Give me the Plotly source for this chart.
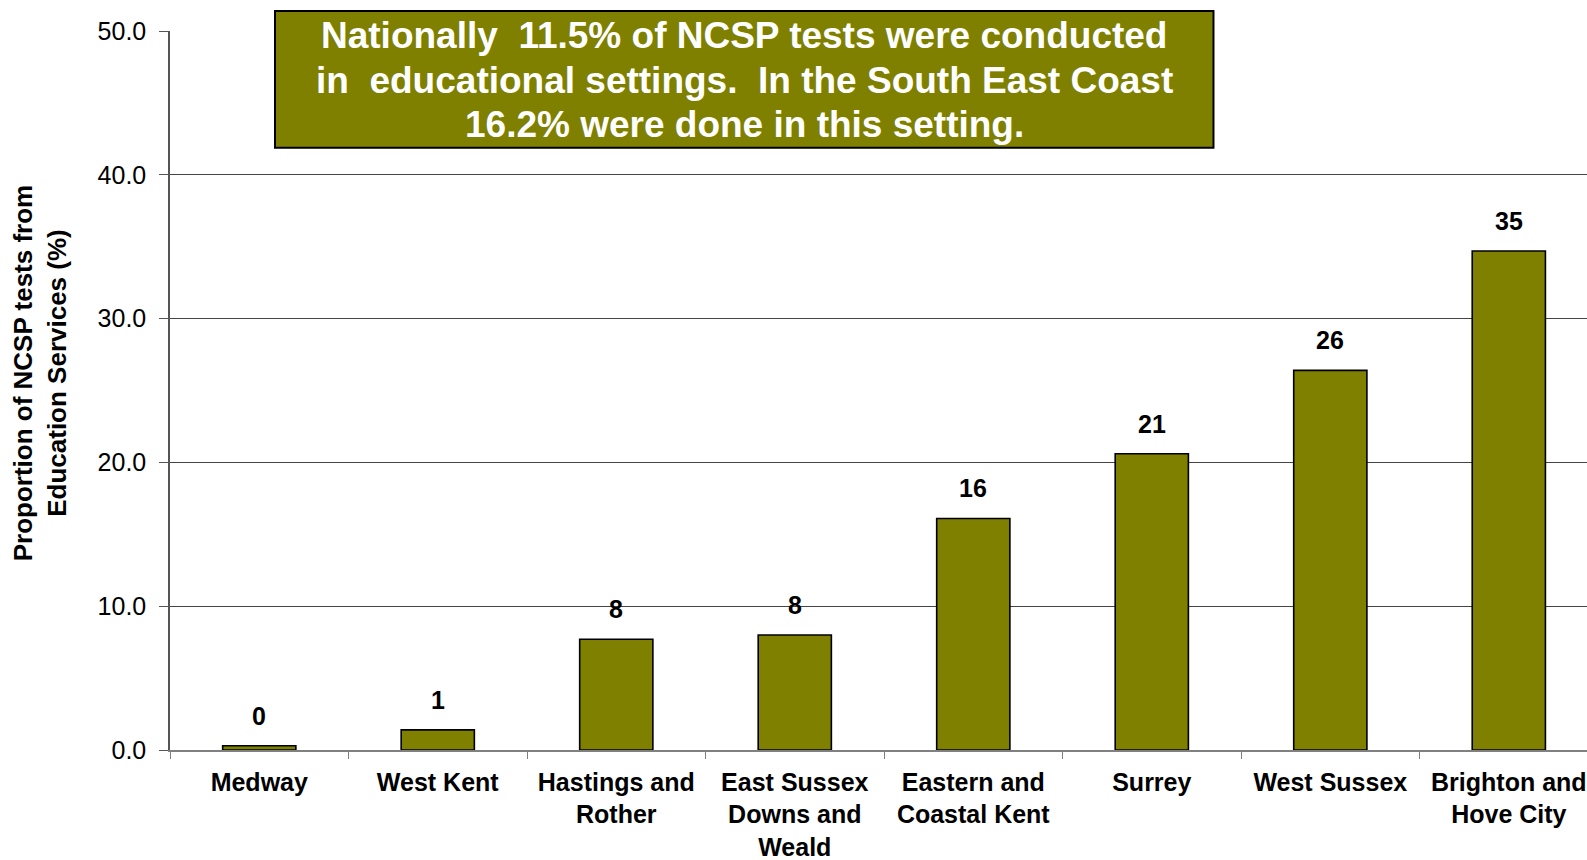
import plotly.graph_objects as go

# Values (% of NCSP tests from education services)
areas = [
    "Medway",
    "West Kent",
    "Hastings and<br>Rother",
    "East Sussex<br>Downs and<br>Weald",
    "Eastern and<br>Coastal Kent",
    "Surrey",
    "West Sussex",
    "Brighton and<br>Hove City",
]
pct_education = [0.3, 1.4, 7.7, 8.0, 16.1, 20.6, 26.4, 34.7]
y_ticks = [0, 10, 20, 30, 40, 50]

note_lines = [
    "Nationally\u00a0 11.5% of NCSP tests were conducted",
    "in\u00a0 educational settings.\u00a0 In the South East Coast",
    "16.2% were done in this setting.",
]
y_title = "Proportion of NCSP tests from<br>Education Services (%)"

FONT = "Liberation Sans, Arial, sans-serif"
OLIVE = "#808000"

fig = go.Figure()
fig.add_trace(
    go.Bar(
        x=areas,
        y=pct_education,
        marker={"color": OLIVE, "line": {"color": "black", "width": 1.6}},
        width=0.41,
        hoverinfo="x+y",
    )
)

# value labels sit a little above each bar, rounded to whole numbers
annotations = []
for a, v in zip(areas, pct_education):
    annotations.append(
        dict(
            x=a, y=v, xref="x", yref="y",
            text=f"<b>{round(v)}</b>",
            showarrow=False, yanchor="middle", yshift=30,
            font={"family": FONT, "size": 25, "color": "black"},
        )
    )

# headline box: one rectangle, one annotation per line (tighter line spacing)
fig.add_shape(
    type="rect", xref="paper", yref="paper",
    x0=0.0741, x1=0.7364, y0=0.8376, y1=1.0278,
    fillcolor=OLIVE, line={"color": "black", "width": 2},
    layer="above",
)
for line, yy in zip(note_lines, [0.9939, 0.9318, 0.8700]):
    annotations.append(
        dict(
            x=0.4054, y=yy, xref="paper", yref="paper",
            xanchor="center", yanchor="middle",
            text=f"<b>{line}</b>", showarrow=False,
            font={"family": FONT, "size": 37, "color": "white"},
        )
    )

# y axis title placed by hand
annotations.append(
    dict(
        x=-0.0917, y=0.524, xref="paper", yref="paper",
        xanchor="center", yanchor="middle",
        text=f"<b>{y_title}</b>",
        textangle=-90, showarrow=False,
        font={"family": FONT, "size": 26, "color": "black"},
    )
)

fig.update_layout(
    width=1587,
    height=860,
    margin={"l": 170, "r": 0, "t": 31, "b": 110},
    paper_bgcolor="white",
    plot_bgcolor="white",
    showlegend=False,
    font={"family": FONT, "color": "black"},
    annotations=annotations,
    xaxis={
        "range": [-0.5, 7.438],
        "tickson": "boundaries",
        "ticks": "outside",
        "ticklen": 7,
        "tickcolor": "#808080",
        "showline": True,
        "linecolor": "#808080",
        "linewidth": 1.5,
        "showgrid": False,
        "automargin": False,
        "tickfont": {"family": FONT, "size": 25, "color": "black", "weight": "bold"},
        "ticklabelstandoff": 9,
    },
    yaxis={
        "range": [0, 50],
        "tickvals": y_ticks,
        "tickformat": ".1f",
        "ticks": "outside",
        "ticklen": 9,
        "tickcolor": "#555555",
        "showline": True,
        "linecolor": "#555555",
        "linewidth": 1.5,
        "showgrid": True,
        "gridcolor": "#444444",
        "gridwidth": 1,
        "zeroline": False,
        "automargin": False,
        "tickfont": {"family": FONT, "size": 25, "color": "black"},
        "ticklabelstandoff": 8,
    },
)

# drop the default page margin so the figure fills the window exactly
fig.write_html(
    "out.html",
    config={"displayModeBar": False},
    post_script="document.body.style.margin='0';"
    "document.documentElement.style.overflow='hidden';",
)
